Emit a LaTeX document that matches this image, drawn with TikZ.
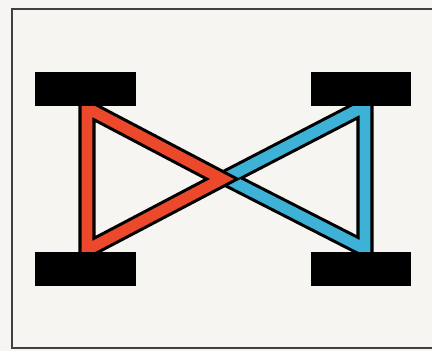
\documentclass[tikz,border=0pt]{standalone}
\usepackage{tikz}
\usetikzlibrary{positioning}
\definecolor{paper}{RGB}{247,245,241}
\definecolor{barred}{RGB}{236,72,44}
\definecolor{barblue}{RGB}{62,178,214}

\begin{document}
\begin{tikzpicture}[x=0.025cm, y=-0.025cm]
    \tikzstyle{block} = [rectangle, fill=black, inner sep=0pt, minimum width=2.5cm, minimum height=0.85cm]
    \tikzstyle{bar} = [line width=2.2pt, double distance=7.8pt, line join=miter]
    \tikzstyle{frame} = [draw=black!75, line width=1pt]

    \fill[paper] (0,0) rectangle (432,351);
    \useasboundingbox (0,0) rectangle (432,351);
    \draw[frame] (432,9) -- (12,9) -- (12,348) -- (432,348);

    % corner points of the two triangles
    \coordinate (redtop) at (87,108);
    \coordinate (redbot) at (87,250);
    \coordinate (redtip) at (222,179);
    \coordinate (bluetop) at (365,106);
    \coordinate (bluebot) at (365,249);
    \coordinate (bluetip) at (226,178);

    \draw [bar, double=barblue] (bluetop) -- (bluebot) -- (bluetip) -- cycle;
    \draw [bar, double=barred] (redtop) -- (redbot) -- (redtip) -- cycle;

    % blocks
    \node (tl) [block] at (85.5,89) {};
    \node (bl) [block, below=3.625cm of tl] {};
    \node (tr) [block, right=4.375cm of tl] {};
    \node (br) [block, below=3.625cm of tr] {};
\end{tikzpicture}
\end{document}
